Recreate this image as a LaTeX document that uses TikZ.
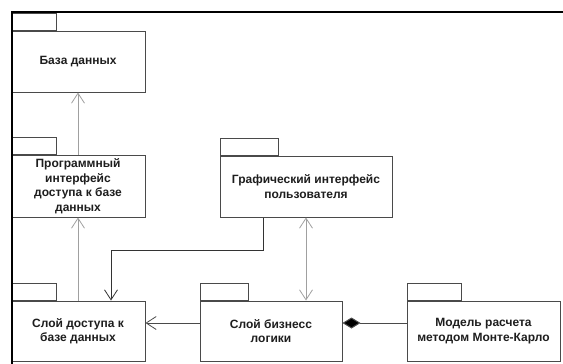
\documentclass[tikz,border=0pt]{standalone}
\usepackage{fontspec}
\setmainfont{Liberation Sans}
\usetikzlibrary{arrows.meta}
\definecolor{boxgray}{HTML}{4A4A4A}
\definecolor{deplight}{HTML}{A0A0A0}
\definecolor{depdark}{HTML}{333333}
\definecolor{txt}{HTML}{1E1E1E}
\begin{document}
\begin{tikzpicture}[x=1pt,y=-1pt,
  pkg/.style={draw=boxgray, line width=1pt, fill=white, inner sep=0pt, align=center,
    font=\fontsize{12}{14.5}\selectfont\bfseries, text=txt},
  pkgtab/.style={draw=boxgray, line width=1pt, fill=white, inner sep=0pt, anchor=south west,
    minimum height=17pt},
  barb/.style={-{Straight Barb[length=10pt,width=13pt,line width=0.8pt]}},
  lightdep/.style={draw=deplight, line width=1pt},
  darkdep/.style={draw=depdark, line width=1pt},
  frameline/.style={draw=black, line width=2pt}
]
\useasboundingbox (0,0) rectangle (563,364);
% packages
\node[pkg, minimum width=134pt, minimum height=61pt] (db) at (78,61.5) {База данных};
\node[pkgtab, minimum width=45pt] (dbtab) at (db.north west) {};
\node[pkg, minimum width=134pt, minimum height=62pt] (api) at (78,186) {Программный\\интерфейс\\доступа к базе\\данных};
\node[pkgtab, minimum width=45pt] (apitab) at (api.north west) {};
\node[pkg, minimum width=134pt, minimum height=60pt] (access) at (78,331) {Слой доступа к\\базе данных};
\node[pkgtab, minimum width=45pt] (accesstab) at (access.north west) {};
\node[pkg, minimum width=172pt, minimum height=61pt] (gui) at (306,186.5) {Графический интерфейс\\пользователя};
\node[pkgtab, minimum width=58pt] (guitab) at (gui.north west) {};
\node[pkg, minimum width=142pt, minimum height=60pt] (biz) at (271,331) {Слой бизнесс\\логики};
\node[pkgtab, minimum width=48pt] (biztab) at (biz.north west) {};
\node[pkg, minimum width=153pt, minimum height=60pt] (model) at (483.5,331) {Модель расчета\\методом Монте-Карло};
\node[pkgtab, minimum width=54pt] (modeltab) at (model.north west) {};
% frame
\coordinate (ftl) at (11.5,12);
\coordinate (ftr) at (563,12);
\coordinate (fbl) at (11.5,364);
\draw[frameline] (ftr) -- (ftl) -- (fbl);
% connectors
\draw[lightdep, barb] (api.north) -- (db.south);
\draw[lightdep, barb] (access.north) -- (api.south);
\draw[darkdep, barb] ([xshift=-43pt]gui.south) -- ++(0,33) -| ([xshift=33pt]access.north);
\draw[lightdep, {Straight Barb[length=10pt,width=13pt,line width=0.8pt]}-{Straight Barb[length=10pt,width=13pt,line width=0.8pt]}] (gui.south) -- (gui.south |- biz.north);
\draw[darkdep, barb, draw=boxgray] ([yshift=8pt]biz.west) -- ([yshift=8pt]access.east);
\draw[darkdep, draw=boxgray, -{Diamond[length=18pt,width=11pt,fill=black]}] ([yshift=8pt]model.west) -- ([yshift=8pt]biz.east);
\end{tikzpicture}
\end{document}
